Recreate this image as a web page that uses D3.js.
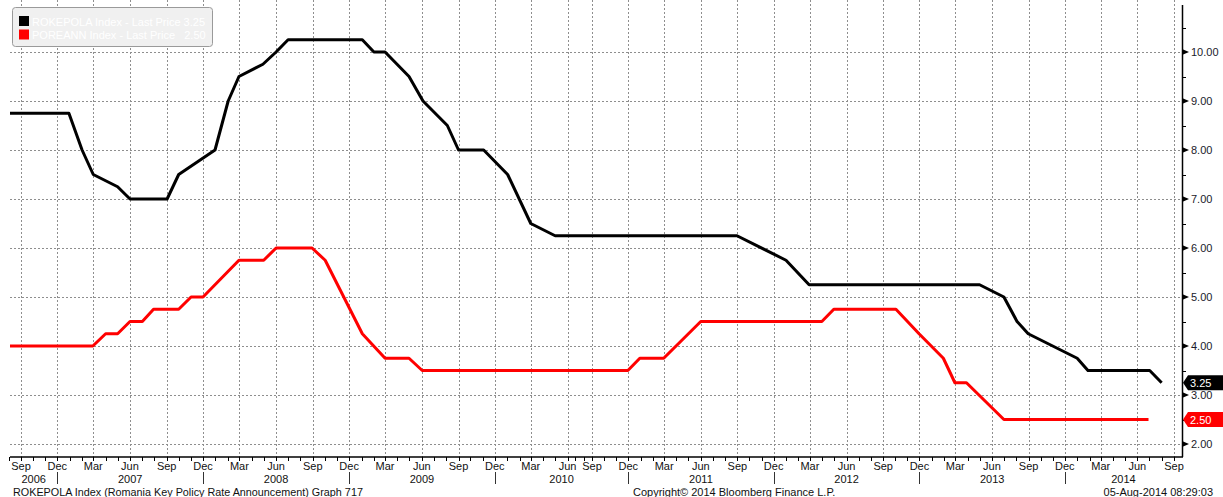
<!DOCTYPE html>
<html>
<head>
<meta charset="utf-8">
<script src="https://cdn.jsdelivr.net/npm/d3@7"></script>
<style>
  html, body { margin: 0; padding: 0; background: #ffffff; }
  svg { display: block; font-family: "Liberation Sans", Arial, sans-serif; }
</style>
</head>
<body>
<svg id="chart" width="1223" height="497"></svg>
<script>
// ---------------- DATA ----------------
// ROKEPOLA Index (Romania key policy rate announcement) - black
const rokeDates = [
  "2006-08-01","2006-12-30","2007-02-01","2007-03-01","2007-05-01","2007-06-01",
  "2007-09-02","2007-10-01","2007-12-31","2008-02-02","2008-02-29","2008-04-29",
  "2008-06-01","2008-07-01","2009-01-03","2009-02-01","2009-03-01","2009-04-30",
  "2009-06-04","2009-08-04","2009-09-01","2009-11-03","2010-01-02","2010-03-01",
  "2010-05-01","2011-08-31","2012-01-01","2012-02-28","2013-05-01","2013-07-01",
  "2013-08-03","2013-08-31","2014-01-01","2014-01-28","2014-07-02","2014-08-01"
];
const rokeValues = [
  8.75, 8.75, 8.00, 7.50, 7.25, 7.00,
  7.00, 7.50, 8.00, 9.00, 9.50, 9.75,
  10.00, 10.25, 10.25, 10.00, 10.00, 9.50,
  9.00, 8.50, 8.00, 8.00, 7.50, 6.50,
  6.25, 6.25, 5.75, 5.25, 5.25, 5.00,
  4.50, 4.25, 3.75, 3.50, 3.50, 3.25
];
// POREANN Index - red
const poreDates = [
  "2006-08-01","2007-02-28","2007-04-01","2007-05-01","2007-06-01","2007-07-02",
  "2007-07-30","2007-10-01","2007-11-01","2007-12-01","2008-02-29","2008-05-01",
  "2008-06-01","2008-08-30","2008-10-02","2009-01-03","2009-03-01","2009-04-30",
  "2009-06-02","2010-11-30","2010-12-30","2011-02-28","2011-06-01","2012-03-31",
  "2012-04-30","2012-10-03","2012-11-30","2013-01-30","2013-02-28","2013-03-29",
  "2013-07-01","2014-06-29"
];
const poreValues = [
  4.00, 4.00, 4.25, 4.25, 4.50, 4.50,
  4.75, 4.75, 5.00, 5.00, 5.75, 5.75,
  6.00, 6.00, 5.75, 4.25, 3.75, 3.75,
  3.50, 3.50, 3.75, 3.75, 4.50, 4.50,
  4.75, 4.75, 4.25, 3.75, 3.25, 3.25,
  2.50, 2.50
];
const yTickValues = [2, 3, 4, 5, 6, 7, 8, 9, 10];
const yMinorValues = [2.5, 3.5, 4.5, 5.5, 6.5, 7.5, 8.5, 9.5, 10.5];
const lastValues = [3.25, 2.50];
const legendLabels = ["ROKEPOLA Index - Last Price 3.25", "POREANN Index - Last Price   2.50"];
const seriesColors = ["#000000", "#ff0000"];
const footerLeft = "ROKEPOLA Index (Romania Key Policy Rate Announcement) Graph 717";
const footerMid = "Copyright\u00A9 2014 Bloomberg Finance L.P.";
const footerRight = "05-Aug-2014 08:29:03";

// ---------------- LAYOUT ----------------
const parse = d3.timeParse("%Y-%m-%d");
const svg = d3.select("#chart");
const plotL = 10, plotR = 1182, plotT = 0, axisY = 457;

// Bloomberg axis: polylinear time scale (a compressed stretch mid-2010)
const x = d3.scaleTime()
  .domain([new Date(2006, 8, 1), new Date(2010, 5, 1), new Date(2010, 8, 1), new Date(2014, 8, 1)])
  .range([21, 567.5, 592, 1174]);
const y = d3.scaleLinear().domain([2, 10]).range([444, 52]);

const allMonths = d3.timeMonth.range(new Date(2006, 7, 1), new Date(2014, 9, 1));
const quarterMonths = allMonths.filter(d => d.getMonth() % 3 === 2 && d >= new Date(2006, 8, 1));
const decMonths = allMonths.filter(d => d.getMonth() === 11);

// gridlines
const grid = svg.append("g").attr("stroke", "#8e8e8e").attr("stroke-width", 1)
  .attr("stroke-dasharray", "2,2").attr("shape-rendering", "crispEdges");
grid.selectAll("line.v").data(quarterMonths).join("line")
  .attr("x1", d => Math.round(x(d)) + 0.5).attr("x2", d => Math.round(x(d)) + 0.5)
  .attr("y1", plotT).attr("y2", axisY);
grid.selectAll("line.h").data(yTickValues).join("line")
  .attr("x1", plotL).attr("x2", plotR)
  .attr("y1", d => Math.round(y(d)) + 0.5).attr("y2", d => Math.round(y(d)) + 0.5);

// lines
svg.append("clipPath").attr("id", "clip").append("rect")
  .attr("x", plotL).attr("y", plotT).attr("width", plotR - plotL).attr("height", axisY - plotT);
const line = d3.line().x(d => x(d[0])).y(d => y(d[1]));
const rokeData = rokeDates.map((d, i) => [parse(d), rokeValues[i]]);
const poreData = poreDates.map((d, i) => [parse(d), poreValues[i]]);
svg.append("path").datum(poreData).attr("clip-path", "url(#clip)")
  .attr("fill", "none").attr("stroke", seriesColors[1]).attr("stroke-width", 3)
  .attr("stroke-linejoin", "round").attr("d", line);
svg.append("path").datum(rokeData).attr("clip-path", "url(#clip)")
  .attr("fill", "none").attr("stroke", seriesColors[0]).attr("stroke-width", 3)
  .attr("stroke-linejoin", "round").attr("d", line);

// x axis
svg.append("line").attr("x1", plotL).attr("x2", plotR + 1).attr("y1", axisY).attr("y2", axisY)
  .attr("stroke", "#000").attr("stroke-width", 1.5);
svg.append("g").selectAll("line").data(allMonths).join("line")
  .attr("x1", d => Math.round(x(d)) + 0.5).attr("x2", d => Math.round(x(d)) + 0.5)
  .attr("y1", axisY).attr("y2", axisY + 4)
  .attr("stroke", "#000").attr("stroke-width", 1);
svg.append("g").selectAll("text").data(quarterMonths).join("text")
  .attr("x", d => x(d)).attr("y", 469.5)
  .attr("text-anchor", "middle").attr("font-size", 11).attr("fill", "#111")
  .text(d3.timeFormat("%b"));
// year separators
svg.append("g").selectAll("line").data(decMonths).join("line")
  .attr("x1", d => Math.round(x(d)) + 0.5).attr("x2", d => Math.round(x(d)) + 0.5)
  .attr("y1", 472).attr("y2", 484).attr("stroke", "#333").attr("stroke-width", 1);
const years = d3.range(2006, 2015);
svg.append("g").selectAll("text").data(years).join("text")
  .attr("x", yr => {
    const a = yr === 2006 ? plotL : x(new Date(yr - 1, 11, 1));
    const b = yr === 2014 ? plotR : x(new Date(yr, 11, 1));
    return (a + b) / 2;
  })
  .attr("y", 482.5).attr("text-anchor", "middle").attr("font-size", 11).attr("fill", "#111")
  .text(d => d);

// y axis (right)
svg.append("line").attr("x1", plotR + 0.5).attr("x2", plotR + 0.5).attr("y1", 5).attr("y2", axisY)
  .attr("stroke", "#000").attr("stroke-width", 1.5);
svg.append("g").selectAll("line").data(yMinorValues).join("line")
  .attr("x1", plotR).attr("x2", plotR + 4)
  .attr("y1", d => Math.round(y(d)) + 0.5).attr("y2", d => Math.round(y(d)) + 0.5)
  .attr("stroke", "#000").attr("stroke-width", 1);
svg.append("g").selectAll("path").data(yTickValues).join("path")
  .attr("d", d => { const yy = y(d); return `M${plotR},${yy - 3}L${plotR + 7},${yy}L${plotR},${yy + 3}Z`; })
  .attr("fill", "#000");
svg.append("g").selectAll("text").data(yTickValues).join("text")
  .attr("x", plotR + 9).attr("y", d => y(d) + 4)
  .attr("font-size", 11).attr("fill", "#1a1a2a")
  .text(d3.format(".2f"));

// last value tags
const tags = svg.append("g").selectAll("g").data(lastValues).join("g");
tags.append("path")
  .attr("d", d => { const yy = y(d); return `M${plotR + 1},${yy}L${plotR + 6},${yy - 7.5}L1223,${yy - 7.5}L1223,${yy + 7.5}L${plotR + 6},${yy + 7.5}Z`; })
  .attr("fill", (d, i) => seriesColors[i]);
tags.append("text").attr("x", plotR + 8).attr("y", d => y(d) + 4)
  .attr("font-size", 11).attr("fill", "#fff").text(d3.format(".2f"));

// legend
const lg = svg.append("g");
lg.append("rect").attr("x", 12.5).attr("y", 7.5).attr("width", 200).attr("height", 39).attr("rx", 3)
  .attr("fill", "#f0f0f0").attr("stroke", "#9a9a9a").attr("stroke-width", 1);
legendLabels.forEach((lab, i) => {
  lg.append("rect").attr("x", 19).attr("y", 16 + i * 13.5).attr("width", 10).attr("height", 10)
    .attr("fill", seriesColors[i]);
  lg.append("text").attr("x", 32).attr("y", 25.5 + i * 13.5).attr("font-size", 11)
    .attr("fill", "#ffffff").attr("xml:space", "preserve").style("white-space", "pre").text(lab);
});

// footer
svg.append("text").attr("x", 13).attr("y", 496).attr("font-size", 10.8).attr("fill", "#111").text(footerLeft);
svg.append("text").attr("x", 633).attr("y", 496).attr("font-size", 11).attr("fill", "#111").text(footerMid);
svg.append("text").attr("x", 1213).attr("y", 496).attr("font-size", 11).attr("fill", "#111")
  .attr("text-anchor", "end").text(footerRight);
</script>
</body>
</html>
